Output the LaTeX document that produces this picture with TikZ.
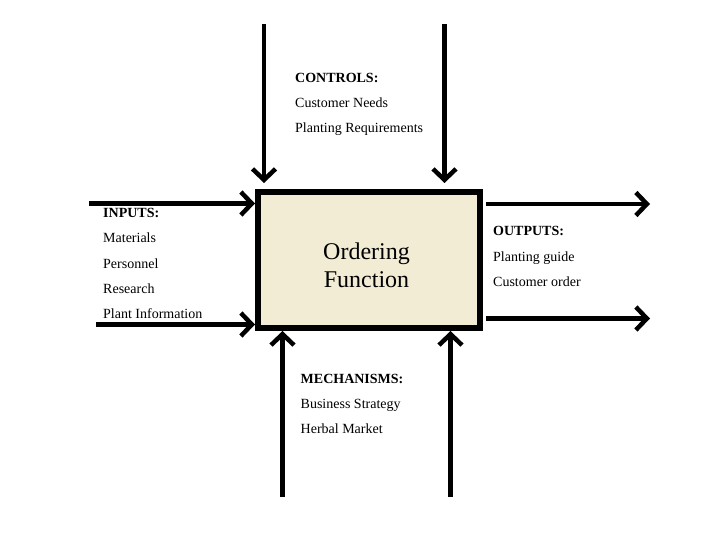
\documentclass[tikz,border=0pt]{standalone}
\usepackage{fontspec}
\setmainfont{Liberation Serif}
\usepackage{xcolor}
\usetikzlibrary{arrows.meta,calc}
\definecolor{boxfill}{RGB}{242,236,212}

\begin{document}
\begin{tikzpicture}[x=1pt,y=-1pt,
  flow/.style={line width=4.5pt,-{Straight Barb[length=11pt,width=23pt]}},
  lbl/.style={anchor=base west,inner sep=0pt,font=\fontsize{14}{16}\selectfont},
  hd/.style={lbl,font=\fontsize{14}{16}\selectfont\bfseries}]
  \useasboundingbox (0,0) rectangle (720,540);
  % function box
  \node[draw,line width=6pt,fill=boxfill,minimum width=222pt,minimum height=136pt,
        inner sep=0pt] (box) at (369,260) {};
  \node[font=\fontsize{24}{28}\selectfont,align=center,anchor=base] (fn) at (366.5,287)
    {Ordering\\Function};
  % free ends of the arrows
  \coordinate (ctlA) at (264,24);
  \coordinate (ctlB) at (444.5,24);
  \coordinate (inA) at (89,203.5);
  \coordinate (inB) at (96,324.5);
  \coordinate (outA) at (650,204);
  \coordinate (outB) at (650,318.5);
  \coordinate (mechA) at (282.5,497);
  \coordinate (mechB) at (450.5,497);
  \draw[flow,shorten >=6pt] (ctlA) -- (ctlA |- box.north);
  \draw[flow,shorten >=6pt] (ctlB) -- (ctlB |- box.north);
  \draw[flow] (inA) -- (inA -| box.west);
  \draw[flow] (inB) -- (inB -| box.west);
  \draw[flow,shorten <=3pt] (outA -| box.east) -- (outA);
  \draw[flow,shorten <=3pt] (outB -| box.east) -- (outB);
  \draw[flow] (mechA) -- (mechA |- box.south);
  \draw[flow] (mechB) -- (mechB |- box.south);
  % labels
  \node[hd] (ctl0) at (295,83) {CONTROLS:};
  \foreach \i/\txt in {1/Customer Needs,2/Planting Requirements}
    \node[lbl] (ctl\i) at (295,83+25*\i) {\txt};
  \node[hd] (in0) at (103,218) {INPUTS:};
  \foreach \i/\txt in {1/Materials,2/Personnel,3/Research,4/Plant Information}
    \node[lbl] (in\i) at (103,218+25*\i) {\txt};
  \node[hd] (out0) at (493,236) {OUTPUTS:};
  \foreach \i/\txt in {1/Planting guide,2/Customer order}
    \node[lbl] (out\i) at (493,236+25*\i) {\txt};
  \node[hd] (mech0) at (300.5,383) {MECHANISMS:};
  \foreach \i/\txt in {1/Business Strategy,2/Herbal Market}
    \node[lbl] (mech\i) at (300.5,383+25*\i) {\txt};
\end{tikzpicture}
\end{document}
